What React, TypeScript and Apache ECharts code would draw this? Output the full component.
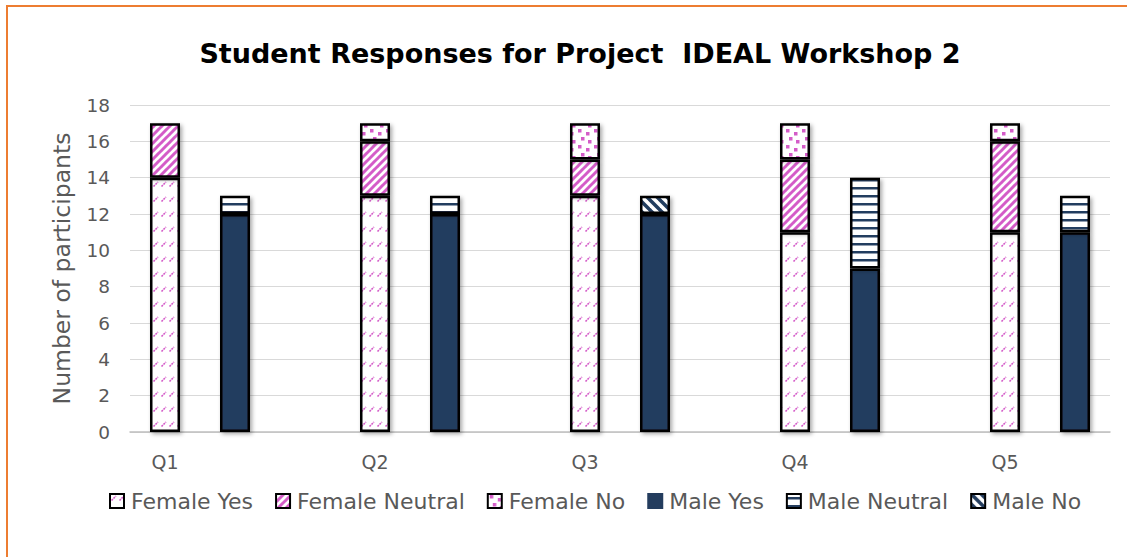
import React, { useEffect, useRef } from "react";
import * as echarts from "echarts";

const questions = ["Q1", "Q2", "Q3", "Q4", "Q5"];
const femaleYes = [14, 13, 13, 11, 11];
const femaleNeutral = [3, 3, 2, 4, 5];
const femaleNo = [0, 1, 2, 2, 1];
const maleYes = [12, 12, 12, 9, 11];
const maleNeutral = [1, 1, 0, 5, 2];
const maleNo = [0, 0, 1, 0, 0];
const yTicks = { min: 0, max: 18, interval: 2 };

const PINK = "#D45CC8";
const NAVY = "#243D5E";

function pattern(w: number, h: number, draw: (ctx: CanvasRenderingContext2D) => void) {
  const c = document.createElement("canvas");
  c.width = w;
  c.height = h;
  const ctx = c.getContext("2d")!;
  ctx.fillStyle = "#ffffff";
  ctx.fillRect(0, 0, w, h);
  draw(ctx);
  return { image: c.toDataURL(), repeat: "repeat", imageWidth: w, imageHeight: h };
}

export default function App() {
  const ref = useRef<HTMLDivElement>(null);
  useEffect(() => {
    if (!ref.current) return;
    const chart = echarts.init(ref.current, null, { renderer: "svg" });

    const fYesPat = pattern(8, 15, (ctx) => {
      ctx.strokeStyle = PINK;
      ctx.lineWidth = 1.6;
      ctx.setLineDash([2, 0.8]);
      ctx.beginPath();
      ctx.moveTo(1.5, 6.5);
      ctx.lineTo(6, 2);
      ctx.stroke();
    });
    const fNeuPat = pattern(8, 8, (ctx) => {
      ctx.strokeStyle = PINK;
      ctx.lineWidth = 3;
      for (const x of [-8, 0, 8]) {
        ctx.beginPath();
        ctx.moveTo(x - 1, 9);
        ctx.lineTo(x + 9, -1);
        ctx.stroke();
      }
    });
    const fNoPat = pattern(16, 16, (ctx) => {
      ctx.fillStyle = PINK;
      ctx.fillRect(2, 1, 3.5, 3.5);
      ctx.fillRect(10, 4, 3.5, 3.5);
      ctx.fillRect(5, 9, 3.5, 3.5);
      ctx.fillRect(12, 12, 3.5, 3.5);
    });
    const mNeuPat = pattern(8, 8, (ctx) => {
      ctx.fillStyle = NAVY;
      ctx.fillRect(0, 3, 8, 2.5);
    });
    const mNoPat = pattern(10, 10, (ctx) => {
      ctx.strokeStyle = NAVY;
      ctx.lineWidth = 3.5;
      for (const x of [-10, 0, 10]) {
        ctx.beginPath();
        ctx.moveTo(x - 1, -1);
        ctx.lineTo(x + 11, 11);
        ctx.stroke();
      }
    });

    // 14 slots: F, M, gap per question (no trailing gap)
    const categories: string[] = [];
    questions.forEach((q, i) => {
      categories.push(q);
      categories.push(q + " M");
      if (i < questions.length - 1) categories.push("gap" + i);
    });

    const place = (vals: number[], offset: number) => {
      const arr: any[] = categories.map(() => "-");
      vals.forEach((v, i) => {
        arr[i * 3 + offset] = v === 0 ? "-" : v;
      });
      return arr;
    };

    const shadow = {
      shadowColor: "rgba(0,0,0,0.35)",
      shadowBlur: 4,
      shadowOffsetX: 2,
      shadowOffsetY: 2,
    };

    const mk = (name: string, vals: number[], offset: number, color: any) => ({
      name,
      type: "bar",
      stack: "all",
      barWidth: 30,
      data: place(vals, offset),
      itemStyle: { color, borderColor: "#000", borderWidth: 2.5, ...shadow },
      emphasis: { disabled: true },
    });

    const FONT = "DejaVu Sans";

    chart.setOption({
      animation: false,
      textStyle: { fontFamily: FONT },
      title: {
        text: "Student Responses for Project  IDEAL Workshop 2",
        left: 575,
        textAlign: "center",
        top: 35,
        textStyle: { fontFamily: FONT, fontWeight: "bold", fontSize: 27, color: "#000" },
      },
      legend: {
        left: 104,
        top: 485,
        itemWidth: 14,
        itemHeight: 14,
        itemGap: 22,
        icon: "rect",
        textStyle: { fontFamily: FONT, fontSize: 22, color: "#595959", padding: [0, 0, 0, 2] },
        data: [
          { name: "Female Yes" },
          { name: "Female Neutral" },
          { name: "Female No" },
          { name: "Male Yes", itemStyle: { borderColor: NAVY } },
          { name: "Male Neutral" },
          { name: "Male No" },
        ],
      },
      grid: { left: 130, right: 17, top: 105, bottom: 125 },
      xAxis: {
        type: "category",
        data: categories,
        axisTick: { show: false },
        axisLine: { lineStyle: { color: "#BFBFBF", width: 1.5 } },
        axisLabel: {
          interval: 0,
          margin: 20,
          fontSize: 19,
          color: "#595959",
          fontFamily: FONT,
          formatter: (v: string) => (questions.includes(v) ? v : ""),
        },
      },
      yAxis: {
        type: "value",
        min: yTicks.min,
        max: yTicks.max,
        interval: yTicks.interval,
        name: "Number of participants",
        nameLocation: "middle",
        nameGap: 56,
        nameTextStyle: { fontFamily: FONT, fontSize: 23.5, color: "#595959" },
        axisLabel: { fontSize: 18.5, color: "#595959", margin: 20, fontFamily: FONT },
        splitLine: { lineStyle: { color: "#D9D9D9", width: 1 } },
        axisLine: { show: false },
        axisTick: { show: false },
      },
      series: [
        mk("Female Yes", femaleYes, 0, fYesPat),
        mk("Female Neutral", femaleNeutral, 0, fNeuPat),
        mk("Female No", femaleNo, 0, fNoPat),
        mk("Male Yes", maleYes, 1, NAVY),
        mk("Male Neutral", maleNeutral, 1, mNeuPat),
        mk("Male No", maleNo, 1, mNoPat),
      ],
      graphic: [
        { type: "line", shape: { x1: 7, y1: 6, x2: 1127, y2: 6 }, style: { stroke: "#ED7D31", lineWidth: 2 } },
        { type: "line", shape: { x1: 7, y1: 5, x2: 7, y2: 557 }, style: { stroke: "#ED7D31", lineWidth: 2 } },
      ],
    });
    return () => chart.dispose();
  }, []);
  return (
    <div
      ref={ref}
      style={{ position: "fixed", left: 0, top: 0, width: 1127, height: 557, background: "#fff" }}
    />
  );
}
